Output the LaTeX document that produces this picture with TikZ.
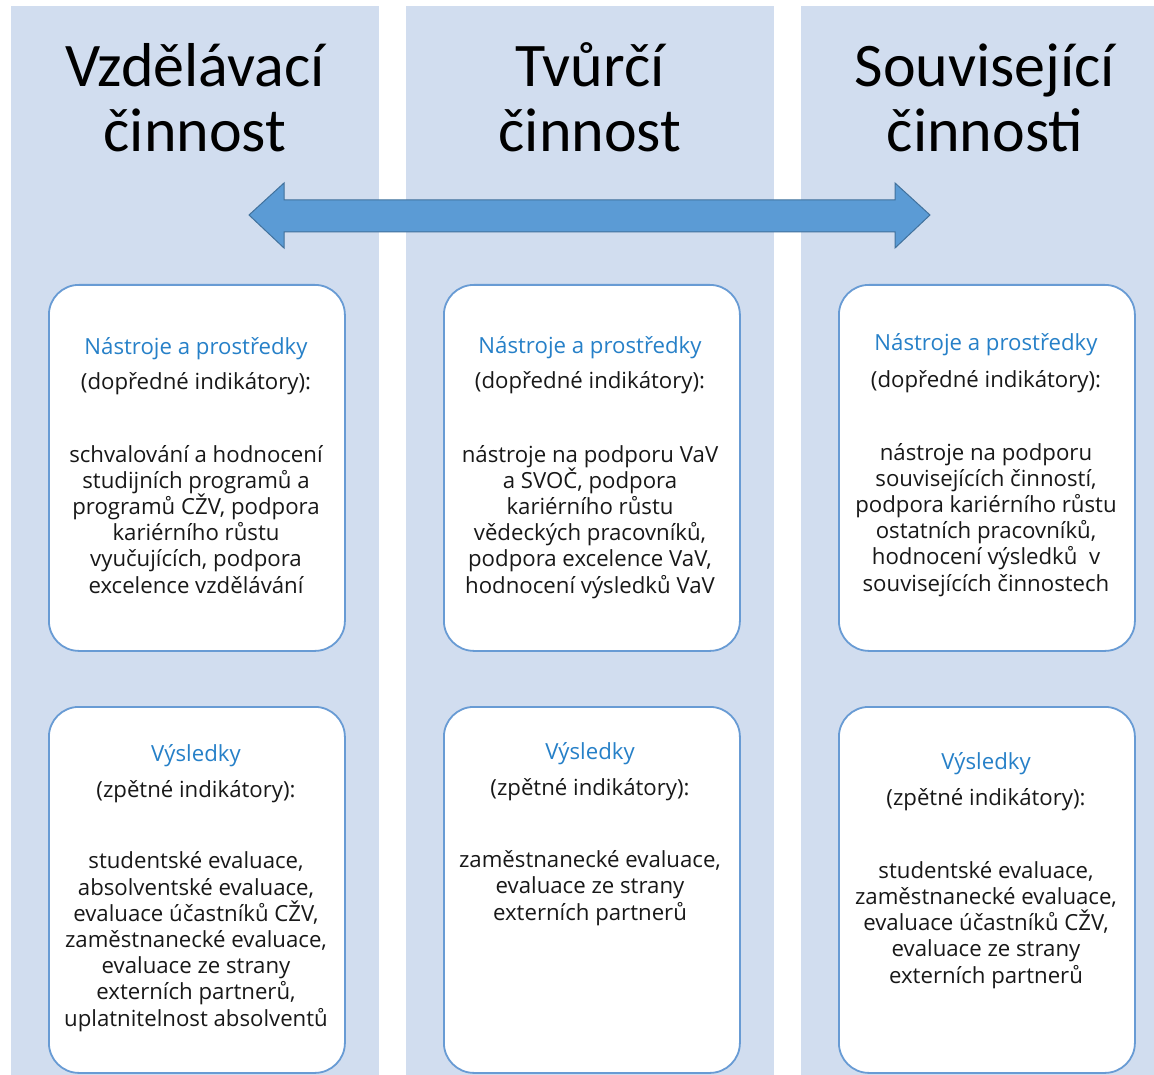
\documentclass[tikz,border=0pt]{standalone}
\usepackage{fontspec}
\setmainfont{Open Sans}
\newfontfamily\headfont{Carlito}
\definecolor{colbg}{RGB}{209,221,239}
\definecolor{cardline}{RGB}{104,155,212}
\definecolor{arrowfill}{RGB}{91,155,213}
\definecolor{arrowline}{RGB}{65,113,156}
\definecolor{titleblue}{RGB}{38,128,200}
\definecolor{txt}{RGB}{24,24,24}
\begin{document}
\begin{tikzpicture}[x=1pt,y=-1pt,
  column/.style={fill=colbg, draw=none, inner sep=0pt, anchor=north west},
  card/.style={draw=cardline, line width=1.8pt, fill=white, rounded corners=30pt, inner sep=0pt, anchor=north west, minimum width=296pt, minimum height=366pt},
  head/.style={font=\headfont\fontsize{62}{65}\selectfont, text=black, align=center, anchor=base, inner sep=0pt},
  ttl/.style={font=\fontsize{22.2}{26}\selectfont, text=titleblue, anchor=base, inner sep=0pt},
  sub/.style={font=\fontsize{22.2}{26}\selectfont, text=txt, anchor=base, inner sep=0pt},
  body/.style={font=\fontsize{22.2}{26.2}\selectfont, text=txt, align=center, anchor=base, inner sep=0pt}]
\useasboundingbox (0,0) rectangle (1154,1075);
\fill[white] (0,0) rectangle (1154,1075);
% columns
\node[column, minimum width=368pt, minimum height=1069pt] (c1) at (11,6) {};
\node[column, minimum width=368pt, minimum height=1069pt] (c2) at (406,6) {};
\node[column, minimum width=353pt, minimum height=1069pt] (c3) at (801,6) {};
% headings (anchor = baseline of last line)
\node[head] (h1) at (195,152) {Vzdělávací\\činnost};
\node[head] (h2) at (590,152) {Tvůrčí\\činnost};
\node[head] (h3) at (985,152) {Související\\činnosti};
% double arrow
\draw[fill=arrowfill, draw=arrowline, line width=1pt, line join=miter]
  (249,215) -- (284,183) -- (284,200) -- (895,200) -- (895,183) -- (930,215)
  -- (895,248) -- (895,232) -- (284,232) -- (284,248) -- cycle;
% cards
\node[card] (t1) at (48,284) {};
\node[card] (t2) at (443,284) {};
\node[card] (t3) at (838,284) {};
\node[card] (b1) at (48,706) {};
\node[card] (b2) at (443,706) {};
\node[card] (b3) at (838,706) {};
% top texts
\node[ttl] (t1a) at (196,354) {Nástroje a prostředky};
\node[sub] (t1b) at (196,389) {(dopředné indikátory):};
\node[body] (t1c) at (196,593) {schvalování a hodnocení\\studijních programů a\\programů CŽV, podpora\\kariérního růstu\\vyučujících, podpora\\excelence vzdělávání};
\node[ttl] (t2a) at (590,353) {Nástroje a prostředky};
\node[sub] (t2b) at (590,388) {(dopředné indikátory):};
\node[body] (t2c) at (590,593) {nástroje na podporu VaV\\a SVOČ, podpora\\kariérního růstu\\vědeckých pracovníků,\\podpora excelence VaV,\\hodnocení výsledků VaV};
\node[ttl] (t3a) at (986,351) {Nástroje a prostředky};
\node[sub] (t3b) at (986,387) {(dopředné indikátory):};
\node[body] (t3c) at (986,591) {nástroje na podporu\\souvisejících činností,\\podpora kariérního růstu\\ostatních pracovníků,\\hodnocení výsledků~~v\\souvisejících činnostech};
% bottom texts
\node[ttl] (b1a) at (196,761) {Výsledky};
\node[sub] (b1b) at (196,797) {(zpětné indikátory):};
\node[body] (b1c) at (196,1026) {studentské evaluace,\\absolventské evaluace,\\evaluace účastníků CŽV,\\zaměstnanecké evaluace,\\evaluace ze strany\\externích partnerů,\\uplatnitelnost absolventů};
\node[ttl] (b2a) at (590,759) {Výsledky};
\node[sub] (b2b) at (590,795) {(zpětné indikátory):};
\node[body] (b2c) at (590,920) {zaměstnanecké evaluace,\\evaluace ze strany\\externích partnerů};
\node[ttl] (b3a) at (986,769) {Výsledky};
\node[sub] (b3b) at (986,805) {(zpětné indikátory):};
\node[body] (b3c) at (986,983) {studentské evaluace,\\zaměstnanecké evaluace,\\evaluace účastníků CŽV,\\evaluace ze strany\\externích partnerů};
\end{tikzpicture}
\end{document}
